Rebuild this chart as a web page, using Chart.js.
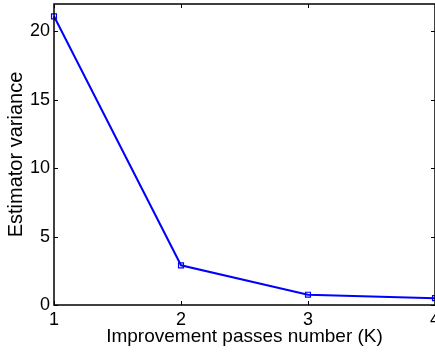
<!DOCTYPE html>
<html>
<head>
<meta charset="utf-8">
<script src="https://cdn.jsdelivr.net/npm/chart.js@4/dist/chart.umd.min.js"></script>
<style>
  html, body { margin: 0; padding: 0; background: #fff; overflow: hidden; }
  #wrap { width: 435px; height: 352px; }
</style>
</head>
<body>
<div id="wrap"><canvas id="chart"></canvas></div>
<script>
// variance of the estimator after each improvement pass
const passes = [1, 2, 3, 4];
const variance = [21.1, 2.9, 0.75, 0.5];
const yTicks = [0, 5, 10, 15, 20];
const xTicks = [1, 2, 3, 4];

const FAMILY = '"Liberation Sans", Arial, sans-serif';
const TICK_FONT = { family: FAMILY, size: 18 };

// box around the axes plus inward tick marks on all four sides
const boxTicks = {
  id: 'boxTicks',
  afterDraw(chart) {
    const { ctx, chartArea: a, scales } = chart;
    const len = 4;
    ctx.save();
    ctx.strokeStyle = '#000';
    ctx.lineWidth = 1.5;
    ctx.strokeRect(a.left, a.top, a.right - a.left, a.bottom - a.top);
    ctx.lineWidth = 1;
    ctx.beginPath();
    yTicks.forEach(v => {
      const y = Math.round(scales.y.getPixelForValue(v)) + 0.5;
      ctx.moveTo(a.left, y); ctx.lineTo(a.left + len, y);
      ctx.moveTo(a.right, y); ctx.lineTo(a.right - len, y);
    });
    xTicks.forEach(v => {
      const x = Math.round(scales.x.getPixelForValue(v)) + 0.5;
      ctx.moveTo(x, a.bottom); ctx.lineTo(x, a.bottom - len);
      ctx.moveTo(x, a.top); ctx.lineTo(x, a.top + len);
    });
    ctx.stroke();
    ctx.restore();
  }
};

new Chart(document.getElementById('chart'), {
  type: 'line',
  data: {
    labels: passes,
    datasets: [{
      data: passes.map((p, i) => ({ x: p, y: variance[i] })),
      borderColor: '#0000ff',
      borderWidth: 2,
      pointStyle: 'rect',
      pointRadius: 3.5,
      pointBorderWidth: 1.2,
      pointBorderColor: '#0000ff',
      pointBackgroundColor: 'rgba(0,0,0,0)',
      tension: 0,
      clip: false
    }]
  },
  options: {
    responsive: true,
    maintainAspectRatio: false,
    animation: false,
    layout: { autoPadding: false, padding: { top: 4, right: 0, left: 0, bottom: 0 } },
    plugins: { legend: { display: false }, tooltip: { enabled: false } },
    scales: {
      x: {
        type: 'linear',
        min: 1, max: 4,
        afterFit(scale) {
          scale.height = 47;
          // let the last tick label run off the right edge
          scale.paddingLeft = 0;
          scale.paddingRight = 0;
        },
        afterBuildTicks(scale) { scale.ticks = xTicks.map(v => ({ value: v })); },
        grid: { display: false, drawTicks: false },
        border: { display: false },
        ticks: { color: '#000', font: TICK_FONT, padding: 4, maxRotation: 0, autoSkip: false },
        title: {
          display: true,
          text: 'Improvement passes number (K)',
          color: '#000',
          font: { family: FAMILY, size: 19 },
          padding: { top: 0, bottom: 4 }
        }
      },
      y: {
        min: 0, max: 22,
        afterFit(scale) {
          scale.width = 54;
          scale.paddingTop = 0;
          scale.paddingBottom = 0;
        },
        afterBuildTicks(scale) { scale.ticks = yTicks.map(v => ({ value: v })); },
        grid: { display: false, drawTicks: false },
        border: { display: false },
        ticks: { color: '#000', font: TICK_FONT, padding: 4 },
        title: {
          display: true,
          text: 'Estimator variance',
          color: '#000',
          font: { family: FAMILY, size: 20 },
          padding: { top: 4, bottom: 0 }
        }
      }
    }
  },
  plugins: [boxTicks]
});
</script>
</body>
</html>
